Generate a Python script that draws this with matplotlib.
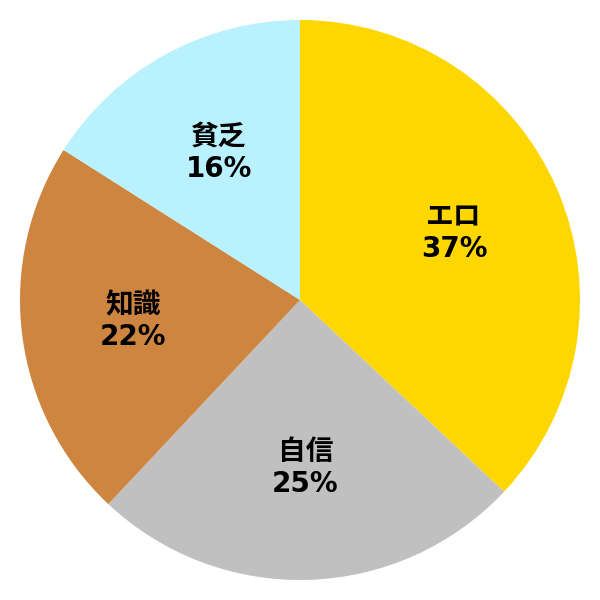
import matplotlib.pyplot as plt
import numpy as np

labels = ['エロ', '自信', '知識', '貧乏']
values = [37, 25, 22, 16]
colors = ['#FFD700', '#C0C0C0', '#CD853F', '#B9F1FE']

plt.rcParams['font.family'] = ['DejaVu Sans', 'Noto Sans CJK JP']

fig = plt.figure(figsize=(6, 6), dpi=100)
ax = fig.add_axes([0, 0, 1, 1])

wedges, texts = ax.pie(values, colors=colors, startangle=90, counterclock=False,
                       radius=1.0, wedgeprops={'linewidth': 0})

total = sum(values)
ang = 90.0
for lab, v in zip(labels, values):
    mid = ang - v / total * 360 / 2
    ang -= v / total * 360
    r = 0.6
    x = r * np.cos(np.radians(mid))
    y = r * np.sin(np.radians(mid))
    ax.text(x, y, f'{lab}\n{v}%', ha='center', va='center', fontsize=20,
            fontweight='bold', linespacing=1.2,
            family=['DejaVu Sans', 'Noto Sans CJK JP'])

ax.set_xlim(-300 / 280, 300 / 280)
ax.set_ylim(-300 / 280, 300 / 280)
ax.set_aspect('equal')
ax.axis('off')
fig.savefig('out.png', dpi=100, facecolor='white')
